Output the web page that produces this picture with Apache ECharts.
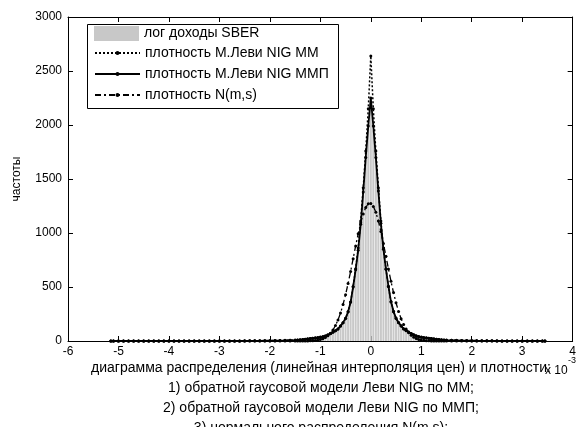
<!DOCTYPE html>
<html><head><meta charset="utf-8">
<script src="https://cdn.jsdelivr.net/npm/echarts@6/dist/echarts.min.js"></script>
<style>html,body{margin:0;padding:0;background:#fff}#c{width:579px;height:427px}</style>
</head><body><div id="c"></div>
<script>
// x values are in units of 1e-3
const xLeftTail = [-5.15,-5.1,-5.0,-4.9,-4.8,-4.7,-4.6,-4.5,-4.4,-4.3,-4.2,-4.1,-4.0,-3.9,-3.8,-3.7,-3.6,-3.5,-3.4,-3.3,-3.2,-3.1,-3.0,-2.9,-2.8,-2.7,-2.6,-2.5,-2.4,-2.3,-2.2,-2.1,-2.0,-1.9,-1.8,-1.7,-1.6];
const xCore = [-1.5,-1.45,-1.4,-1.35,-1.3,-1.25,-1.2,-1.15,-1.1,-1.05,-1.0,-0.95,-0.9,-0.85,-0.8,-0.75,-0.7,-0.65,-0.6,-0.55,-0.5,-0.45,-0.4,-0.35,-0.3,-0.25,-0.2,-0.15,-0.1,-0.05,0,0.05,0.1,0.15,0.2,0.25,0.3,0.35,0.4,0.45,0.5,0.55,0.6,0.65,0.7,0.75,0.8,0.85,0.9,0.95,1.0,1.05,1.1,1.15,1.2,1.25,1.3,1.35,1.4,1.45,1.5];
const xRightTail = [1.6,1.7,1.8,1.9,2.0,2.1,2.2,2.3,2.4,2.5,2.6,2.7,2.8,2.9,3.0,3.1,3.2,3.3,3.4,3.45];

// NIG density, method of moments (dotted)
const nigMMLeftTail = [0,0,0,0,0,0,0,0,0,0,0,0,0,0,0,0,0,0,0,0,0,0,0.6,0.7,0.8,0.9,1.1,1.3,1.5,1.8,2.2,2.6,3.2,3.9,4.7,5.8,7.2];
const nigMMCore = [9,10,12,14,17,20,23,26,29,32,36,41,48,58,70,83,96,112,138,168,208,270,362,505,670,860,1110,1420,1760,2150,
  2640,
  2150,1760,1420,1110,860,670,505,362,270,208,168,138,112,96,83,70,58,48,41,36,32,29,26,23,20,17,14,12,10,9];
const nigMMRightTail = [7.2,5.8,4.7,3.9,3.2,2.6,2.2,1.8,1.5,1.3,1.1,0.9,0.8,0.7,0.6,0.5,0.4,0.4,0.3,0.3];

// NIG density, maximum likelihood (solid)
const nigMLELeftTail = [0,0,0,0,0,0,0,0,0,0,0,0,0,0,0,0,0,0,0,0,0,0,0.5,0.5,0.6,0.7,0.8,1,1.2,1.5,1.8,2.2,2.7,3.3,4.1,5.1,6.4];
const nigMLECore = [8,9,11,13,16,19,22,25,27,30,34,38,45,56,68,82,96,112,140,170,210,270,360,500,660,840,1080,1380,1700,1990,
  2250,
  1990,1700,1390,1090,850,665,505,365,275,212,172,141,114,97,83,69,57,46,39,34,30,27,25,22,19,16,13,11,9,8];
const nigMLERightTail = [6.4,5.1,4.1,3.3,2.7,2.2,1.8,1.5,1.2,1,0.8,0.7,0.6,0.5,0.5,0.4,0.3,0.3,0.2,0.2];

// Normal density N(m,s) (dash-dot)
const normLeftTail = [0,0,0,0,0,0,0,0,0,0,0,0,0,0,0,0,0,0,0,0,0,0,0,0,0,0,0,0,0,0,0,0,0,0,0,0,0];
const normCore = [0,0,0,0,0.5,1,2,3,5,8,14,21,33,49,72,102,143,195,259,338,429,532,644,762,880,993,1094,1177,1237,1270,
  1273,
  1246,1191,1112,1014,903,785,667,553,448,354,274,207,152,110,77,53,35,23,15,9,6,3,2,1,0.5,0,0,0,0,0];
const normRightTail = [0,0,0,0,0,0,0,0,0,0,0,0,0,0,0,0,0,0,0,0];

// histogram of log returns
const histX = [-1.3,-1.25,-1.2,-1.15,-1.1,-1.05,-1.0,-0.95,-0.9,-0.85,-0.8,-0.75,-0.7,-0.65,-0.6,-0.55,-0.5,-0.45,-0.4,-0.35,-0.3,-0.25,-0.2,-0.15,-0.1,-0.05,0,0.05,0.1,0.15,0.2,0.25,0.3,0.35,0.4,0.45,0.5,0.55,0.6,0.65,0.7,0.75,0.8,0.85,0.9,0.95,1.0,1.05,1.1,1.15,1.2,1.25,1.3,1.35];
const histY = [12,15,20,22,28,26,35,40,48,55,70,80,100,118,145,178,220,285,370,505,650,850,1060,1350,1680,1960,
  2200,
  1950,1700,1380,1100,840,680,500,375,280,205,175,135,118,92,85,65,60,44,40,30,32,25,22,18,15,12,9];

const xTicks = [-6,-5,-4,-3,-2,-1,0,1,2,3,4];
const yTicks = [0,500,1000,1500,2000,2500,3000];

const seriesNames = ['лог доходы SBER','плотность М.Леви NIG ММ','плотность М.Леви NIG ММП','плотность N(m,s)'];
const xLabelLines = ['диаграмма распределения (линейная интерполяция цен) и плотности:',
  '1) обратной гаусовой модели Леви NIG по ММ;',
  '2) обратной гаусовой модели Леви NIG по ММП;',
  '3) нормального распределения N(m,s);'];

const xs = xLeftTail.concat(xCore, xRightTail);
const pairs = (vals) => xs.map((x, i) => [x, vals[i]]);
const mm = pairs(nigMMLeftTail.concat(nigMMCore, nigMMRightTail));
const mle = pairs(nigMLELeftTail.concat(nigMLECore, nigMLERightTail));
const nrm = pairs(normLeftTail.concat(normCore, normRightTail));
const hist = histX.map((x, i) => [x, histY[i]]);

const FONT = 'Liberation Sans, Arial, sans-serif';
const chart = echarts.init(document.getElementById('c'), null, {renderer: 'canvas'});
const xAxisCommon = {
  type: 'value', min: xTicks[0], max: xTicks[xTicks.length - 1], interval: 1,
  axisLine: {show: true, onZero: false, lineStyle: {color: '#000', width: 1}},
  axisTick: {show: true, inside: true, length: 5, lineStyle: {color: '#000'}},
  splitLine: {show: false}
};
const yAxisCommon = {
  type: 'value', min: yTicks[0], max: yTicks[yTicks.length - 1], interval: 500,
  axisLine: {show: true, onZero: false, lineStyle: {color: '#000', width: 1}},
  axisTick: {show: true, inside: true, length: 5, lineStyle: {color: '#000'}},
  splitLine: {show: false}
};
const lineCommon = {
  type: 'line', symbol: 'circle', symbolSize: 3, showAllSymbol: true,
  itemStyle: {color: '#000'}, z: 3, animation: false
};
const legendText = {fontFamily: FONT, fontSize: 14, color: '#000'};
chart.setOption({
  animation: false,
  backgroundColor: '#fff',
  grid: {left: 68, right: 6, top: 17, bottom: 86, containLabel: false},
  legend: [
    {orient: 'vertical', left: 94, top: 26, data: [{name: seriesNames[0], icon: 'rect'}],
      itemWidth: 45, itemHeight: 15, padding: 0, textStyle: legendText, selectedMode: false},
    {orient: 'vertical', left: 94, top: 46, data: seriesNames.slice(1),
      itemWidth: 45, itemHeight: 5, itemGap: 7, padding: 0, textStyle: legendText, selectedMode: false}
  ],
  xAxis: [
    Object.assign({position: 'bottom',
      axisLabel: {color: '#000', fontFamily: FONT, fontSize: 12, margin: 5}}, xAxisCommon),
    Object.assign({position: 'top', axisLabel: {show: false}}, xAxisCommon)
  ],
  yAxis: [
    Object.assign({position: 'left',
      name: 'частоты', nameLocation: 'middle', nameGap: 45, nameRotate: 90,
      nameTextStyle: {color: '#000', fontFamily: FONT, fontSize: 12},
      axisLabel: {color: '#000', fontFamily: FONT, fontSize: 12, margin: 6, formatter: (v) => String(v)}}, yAxisCommon),
    Object.assign({position: 'right', axisLabel: {show: false}}, yAxisCommon)
  ],
  series: [
    {name: seriesNames[0], type: 'bar', data: hist, barWidth: 2, xAxisIndex: 0, yAxisIndex: 0,
      itemStyle: {color: '#c8c8c8'}, z: 1, large: false},
    Object.assign({name: seriesNames[1], data: mm, lineStyle: {color: '#000', width: 1.5, type: [2, 2]}}, lineCommon),
    Object.assign({name: seriesNames[2], data: mle, lineStyle: {color: '#000', width: 1.8, type: 'solid'}}, lineCommon),
    Object.assign({name: seriesNames[3], data: nrm, lineStyle: {color: '#000', width: 1.3, type: [6, 3, 2, 3]}}, lineCommon)
  ],
  graphic: [
    {type: 'rect', shape: {x: 87.5, y: 24.5, width: 251, height: 84}, z: 0, zlevel: 0,
      style: {fill: '#fff', stroke: '#000', lineWidth: 1}},
    {type: 'text', x: 321, y: 358, z: 10,
      style: {text: xLabelLines.join('\n'), fill: '#000', font: '14px ' + FONT, textAlign: 'center', lineHeight: 20}},
    {type: 'text', x: 545, y: 365, z: 11,
      style: {text: 'x 10', fill: '#000', font: '12px ' + FONT}},
    {type: 'text', x: 568, y: 356, z: 11,
      style: {text: '-3', fill: '#000', font: '9px ' + FONT}}
  ]
});
</script>
</body></html>
